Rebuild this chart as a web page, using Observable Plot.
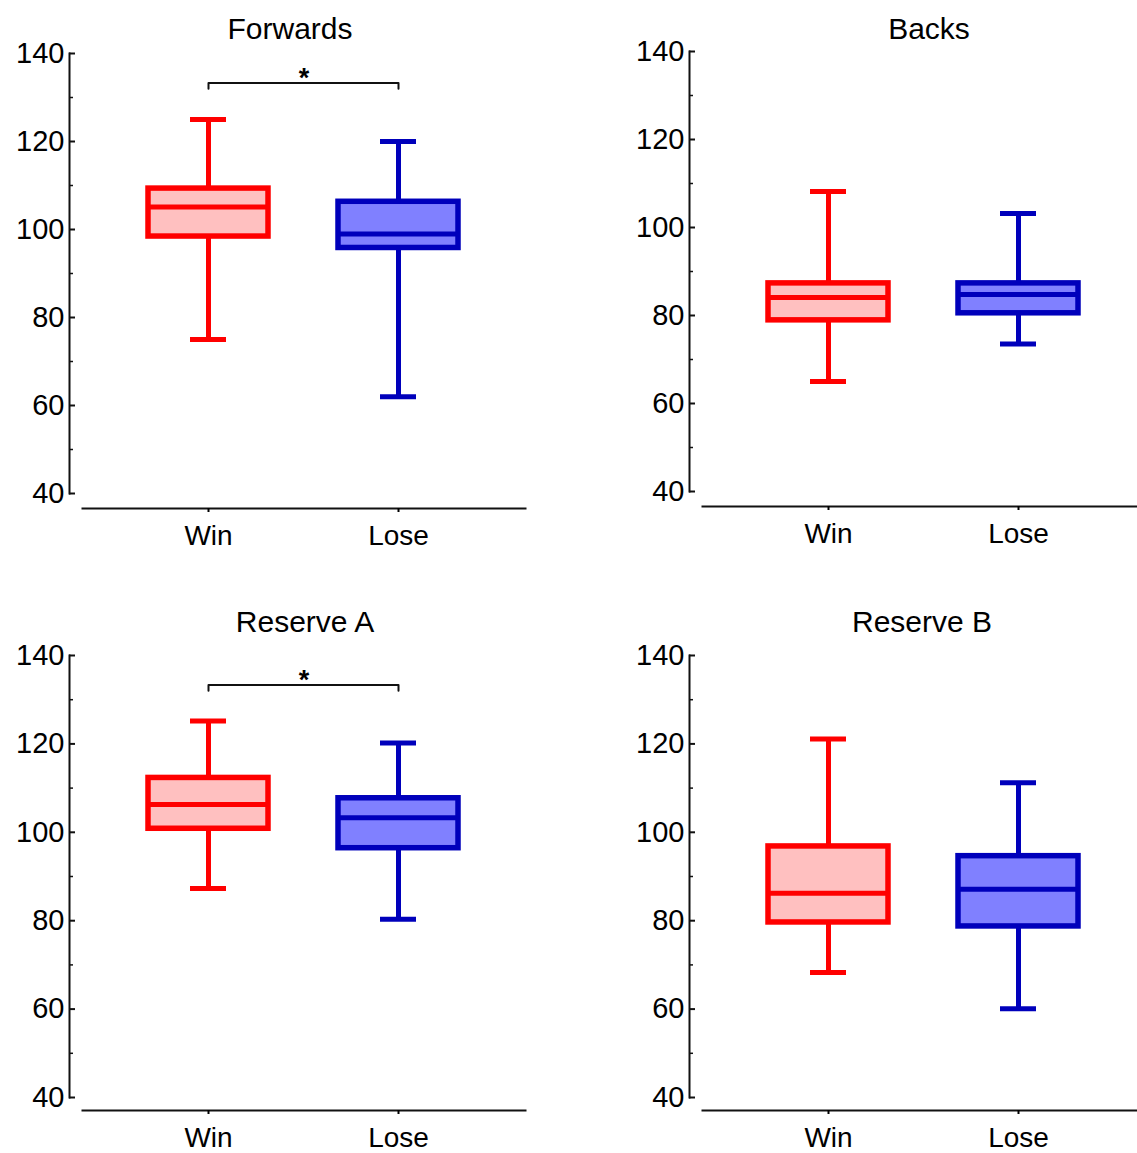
<!DOCTYPE html>
<html><head><meta charset="utf-8">
<script src="https://cdn.jsdelivr.net/npm/d3@7"></script>
<script src="https://cdn.jsdelivr.net/npm/@observablehq/plot@0.6"></script>
<style>
body{margin:0;background:#fff;}
#wrap{position:relative;width:1137px;height:1153px;overflow:hidden;font-family:"Liberation Sans",Arial,sans-serif;background:#fff;}
.panel{position:absolute;width:568px;height:580px;}
.panel svg{max-width:none !important;}
.title{position:absolute;font-size:30px;line-height:1;color:#000;transform:translate(-50%,-50%);white-space:nowrap;}
</style></head><body><div id="wrap"></div>
<script>
// ---- data ----
const panels = ["Forwards", "Backs", "Reserve A", "Reserve B"];
const groups = ["Win", "Lose"];
const whiskerMin = [[75, 62], [65, 73.5], [87.3, 80.3], [68.3, 60.1]];
const q1s        = [[98.4, 95.8], [78.9, 80.5], [100.8, 96.4], [79.6, 78.7]];
const medians    = [[105.1, 99.0], [84.1, 84.8], [106.3, 103.3], [86.2, 87.1]];
const q3s        = [[109.3, 106.3], [87.3, 87.3], [112.3, 107.7], [96.8, 94.6]];
const whiskerMax = [[125, 120], [108.2, 103.2], [125.2, 120.2], [121.1, 111.2]];
const significant = [true, false, true, false];
const sigLabel = "*";
const bracketTop = 133.3;
const bracketEnd = 132.0;
const yMajor = [40, 60, 80, 100, 120, 140];
const yMinor = [50, 70, 90, 110, 130];
const fills = ["#ffc0c0", "#8080ff"];
const strokes = ["#ff0000", "#0000bb"];

// ---- layout ----
const layout = [
  {left: 0,   top: 0,   tx: 290, ty: 29,  yBottom: 493},
  {left: 620, top: -2,  tx: 929, ty: 29,  yBottom: 493},
  {left: 0,   top: 602, tx: 305, ty: 622, yBottom: 495},
  {left: 620, top: 602, tx: 922, ty: 622, yBottom: 495}
];
const W = 568, H = 580, mL = 69, mR = 43, mT = 53, frameBottom = 508;
const xRange = [82, 525], padIn = 0.3665, padOut = 0.343;
const step = (xRange[1] - xRange[0]) / (groups.length - padIn + 2 * padOut);
const frameW = W - mR - mL;
const ink = "#111";

const wrap = document.getElementById("wrap");

panels.forEach((name, p) => {
  const L = layout[p];
  const rows = groups.map((g, j) => ({
    group: g, lo: whiskerMin[p][j], q1: q1s[p][j], med: medians[p][j],
    q3: q3s[p][j], hi: whiskerMax[p][j], fill: fills[j], stroke: strokes[j]
  }));
  const bracket = significant[p] ? [
    {group: groups[0], y: bracketEnd}, {group: groups[0], y: bracketTop},
    {group: groups[1], y: bracketTop}, {group: groups[1], y: bracketEnd}
  ] : [];
  const star = significant[p] ? [{group: groups[0], y: bracketTop, t: sigLabel}] : [];

  const chart = Plot.plot({
    width: W, height: H,
    marginLeft: mL, marginRight: mR, marginTop: mT, marginBottom: H - frameBottom,
    style: {fontFamily: '"Liberation Sans", Arial, sans-serif', color: "#000", background: "transparent", overflow: "visible", maxWidth: "none"},
    x: {type: "band", domain: groups, range: xRange, paddingInner: padIn, paddingOuter: padOut, axis: null},
    y: {domain: [40, 140], range: [L.yBottom, mT], axis: null},
    color: {type: "identity"},
    marks: [
      Plot.frame({anchor: "left", insetBottom: frameBottom - L.yBottom, stroke: ink, strokeWidth: 2}),
      Plot.frame({anchor: "bottom", insetLeft: xRange[0] - mL, stroke: ink, strokeWidth: 2}),
      Plot.ruleY(yMajor, {y: d => d, insetRight: frameW - 6, stroke: ink, strokeWidth: 2}),
      Plot.ruleY(yMinor, {y: d => d, insetRight: frameW - 4, stroke: ink, strokeWidth: 1.5}),
      Plot.axisY({ticks: yMajor, tickSize: 0, tickPadding: 5, fontSize: 29, label: null, fill: "#000"}),
      Plot.axisX({tickSize: 4, tickPadding: 13, fontSize: 28, label: null, strokeWidth: 2, fill: "#000"}),
      Plot.line(bracket, {x: "group", y: "y", stroke: ink, strokeWidth: 2}),
      Plot.text(star, {x: "group", y: "y", text: "t", dx: step / 2, dy: 4, lineAnchor: "bottom", fontSize: 27, fontWeight: "bold", fill: "#000"}),
      Plot.ruleX(rows, {x: "group", y1: "q3", y2: "hi", stroke: "stroke", strokeWidth: 5}),
      Plot.ruleX(rows, {x: "group", y1: "lo", y2: "q1", stroke: "stroke", strokeWidth: 5}),
      Plot.tickY(rows, {x: "group", y: "hi", insetLeft: 42, insetRight: 42, stroke: "stroke", strokeWidth: 5}),
      Plot.tickY(rows, {x: "group", y: "lo", insetLeft: 42, insetRight: 42, stroke: "stroke", strokeWidth: 5}),
      Plot.barY(rows, {x: "group", y1: "q1", y2: "q3", fill: "fill", stroke: "stroke", strokeWidth: 5.5}),
      Plot.tickY(rows, {x: "group", y: "med", stroke: "stroke", strokeWidth: 5})
    ]
  });
  const box = document.createElement("div");
  box.className = "panel";
  box.style.left = L.left + "px";
  box.style.top = L.top + "px";
  box.appendChild(chart);
  wrap.appendChild(box);

  const t = document.createElement("div");
  t.className = "title";
  t.textContent = name;
  t.style.left = L.tx + "px";
  t.style.top = L.ty + "px";
  wrap.appendChild(t);
});
</script></body></html>
